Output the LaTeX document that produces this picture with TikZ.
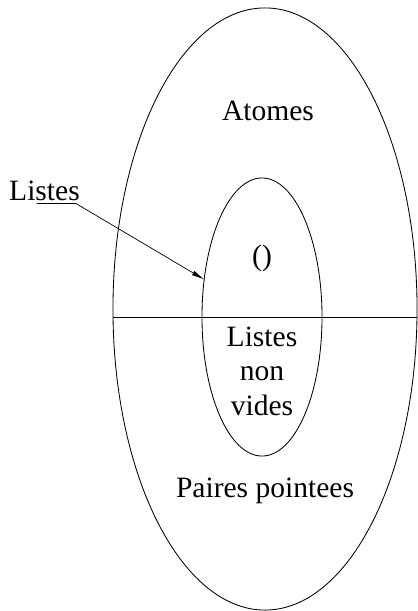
\documentclass[tikz,border=0pt]{standalone}
\usepackage{fontspec}
\setmainfont{Liberation Serif}
\usetikzlibrary{arrows.meta,positioning,shapes.geometric}

\begin{document}
\begin{tikzpicture}[
    x=0.025cm, y=-0.025cm,
    zone/.style={ellipse, draw, line width=0.6pt, inner sep=0pt, outer sep=0pt},
    txt/.style={font=\fontsize{21}{24.5}\selectfont, inner sep=0pt, align=center},
    arrow/.style={-{Latex[length=9pt, width=3.6pt]}, line width=0.5pt}
]
\useasboundingbox (0,0) rectangle (418,611);

% Ellipses
\node[zone, minimum width=7.6cm, minimum height=15.05cm] (univers) at (265,309) {};
\node[zone, minimum width=3cm, minimum height=6.95cm] (noyau) at (262,317) {};

% Separation atomes / paires
\draw[line width=0.6pt] (univers.west |- noyau.center) -- (univers.east |- noyau.center);

% Texts
\node[txt, anchor=base] (atomes) at (268,120) {Atomes};
\node[txt, anchor=base] (vide) at (262,265) {()};
\node[txt, anchor=center] (nonvides) at (262,371) {Listes\\non\\vides};
\node[txt, anchor=base] (paires) at (265,497) {Paires pointees};

% Pointer to the lists
\node[txt, anchor=base] (listes) at (44.5,200) {Listes};
\draw[arrow] ([xshift=-0.19cm, yshift=-0.075cm]listes.south) -- ([xshift=-0.1cm, yshift=-0.075cm]listes.south east) -- (noyau.147);
\end{tikzpicture}
\end{document}
